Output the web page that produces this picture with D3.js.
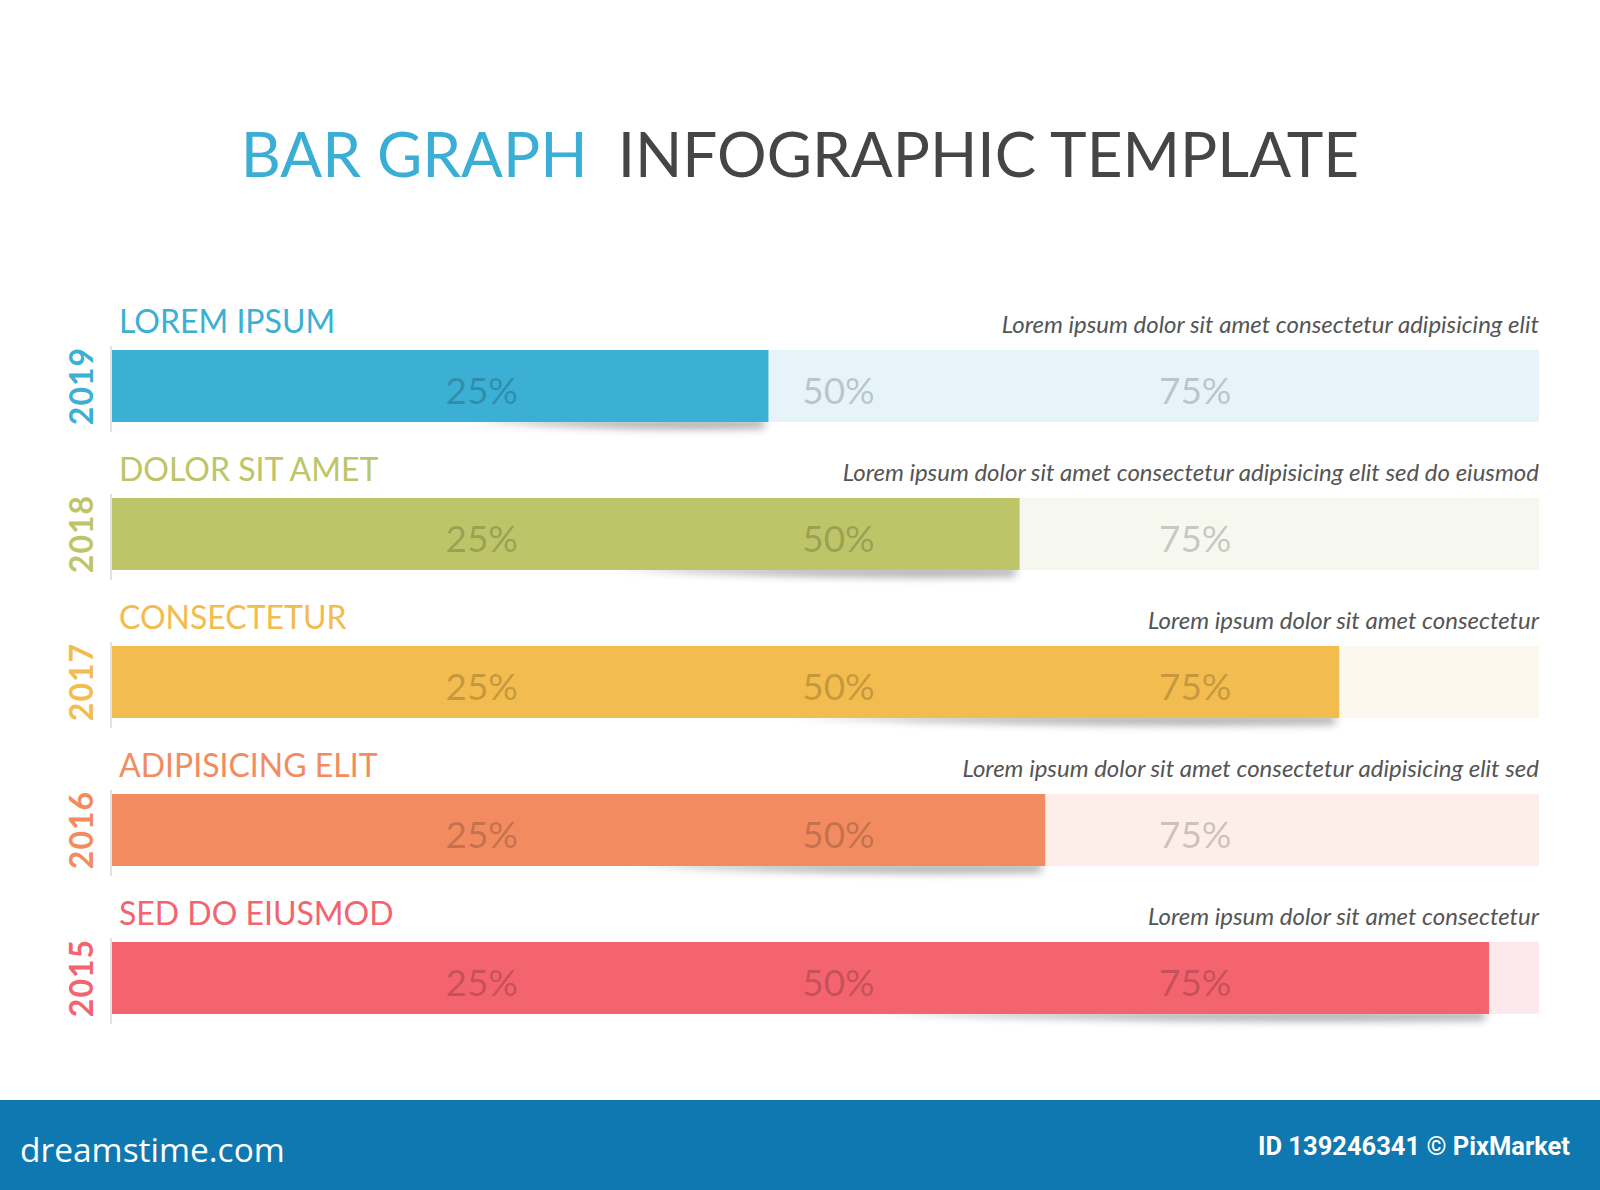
<!DOCTYPE html>
<html>
<head>
<meta charset="utf-8">
<script src="https://cdn.jsdelivr.net/npm/d3@7"></script>
<style>
  html, body { margin: 0; padding: 0; background: #fff; }
  svg { display: block; }
</style>
</head>
<body>
<svg id="chart" width="1600" height="1190"></svg>
<script>
// ---- data ----
const years = ["2019", "2018", "2017", "2016", "2015"];
const categories = ["LOREM IPSUM", "DOLOR SIT AMET", "CONSECTETUR", "ADIPISICING ELIT", "SED DO EIUSMOD"];
const descriptions = [
  "Lorem ipsum dolor sit amet consectetur adipisicing elit",
  "Lorem ipsum dolor sit amet consectetur adipisicing elit sed do eiusmod",
  "Lorem ipsum dolor sit amet consectetur",
  "Lorem ipsum dolor sit amet consectetur adipisicing elit sed",
  "Lorem ipsum dolor sit amet consectetur"
];
const values = [46, 63.6, 86, 65.4, 96.5];
const tickValues = [25, 50, 75];
const tickLabels = ["25%", "50%", "75%"];
const barColors = ["#3cafd4", "#bec568", "#f2bc4e", "#f28c60", "#f3646f"];
const trackColors = ["#e6f3f9", "#f6f7ee", "#fdf8ee", "#fdeeea", "#fde9ec"];

const svg = d3.select("#chart");
const W = 1600;

// ---- scales ----
const x = d3.scaleLinear().domain([0, 100]).range([112, 1539]);
const y = d3.scaleBand().domain(years).range([302, 1042]).paddingInner(0);
const labelSpace = 48, barH = 72;

// ---- defs ----
const defs = svg.append("defs");
defs.append("filter").attr("id", "blur").attr("x", "-20%").attr("y", "-200%").attr("width", "140%").attr("height", "500%")
  .append("feGaussianBlur").attr("stdDeviation", 4);

// ---- title ----
const title = svg.append("text")
  .attr("x", W / 2).attr("y", 177)
  .attr("text-anchor", "middle")
  .style("font-family", "Lato, 'Open Sans', sans-serif")
  .style("font-size", "62px");
title.append("tspan").attr("fill", "#3aaed4").text("BAR GRAPH");
title.append("tspan").attr("fill", "#454545").attr("dx", 30).text("INFOGRAPHIC TEMPLATE");

// ---- rows ----
const rows = svg.selectAll("g.row").data(years).join("g").attr("class", "row")
  .attr("transform", d => `translate(0,${y(d) + labelSpace})`);

// shadow under bar end
rows.append("path")
  .attr("d", (d, i) => {
    const x1 = x(values[i]);
    const x0 = x(values[i] * 0.55);
    return `M${x0},${barH - 2} Q${(x0 + x1) / 2},${barH + 10} ${x1 - 4},${barH + 6} L${x1 - 4},${barH - 2} Z`;
  })
  .attr("fill", "#000").attr("opacity", 0.35).attr("filter", "url(#blur)");

// left edge shadow line
rows.append("line")
  .attr("x1", x(0) - 1).attr("x2", x(0) - 1)
  .attr("y1", -4).attr("y2", barH + 10)
  .attr("stroke", "#e2e2e2").attr("stroke-width", 2);

// track
rows.append("rect")
  .attr("x", x(0)).attr("y", 0)
  .attr("width", x(100) - x(0)).attr("height", barH)
  .attr("fill", (d, i) => trackColors[i]);

// bar
rows.append("rect")
  .attr("x", x(0)).attr("y", 0)
  .attr("width", (d, i) => x(values[i]) - x(0)).attr("height", barH)
  .attr("fill", (d, i) => barColors[i]);

// percent markers
rows.each(function () {
  d3.select(this).selectAll("text.pct").data(tickValues).join("text")
    .attr("class", "pct")
    .attr("x", v => x(v) + 13)
    .attr("y", barH / 2 + 18)
    .attr("text-anchor", "middle")
    .attr("fill", "#000").attr("fill-opacity", 0.2)
    .style("font-family", "Lato, sans-serif")
    .style("font-size", "37px")
    .text((v, k) => tickLabels[k]);
});

// year labels (rotated)
rows.append("text")
  .attr("transform", `translate(${x(0) - 30},${barH / 2}) rotate(-90)`)
  .attr("text-anchor", "middle")
  .attr("dy", "0.35em")
  .attr("fill", (d, i) => barColors[i])
  .style("font-family", "Lato, 'Open Sans', sans-serif")
  .style("font-weight", "bold")
  .style("font-size", "32px")
  .style("letter-spacing", "1px")
  .text(d => d);

// category labels
rows.append("text")
  .attr("x", x(0) + 7).attr("y", -17)
  .attr("fill", (d, i) => barColors[i])
  .style("font-family", "Lato, sans-serif")
  .style("font-size", "32px")
  .text((d, i) => categories[i]);

// descriptions
rows.append("text")
  .attr("x", x(100)).attr("y", -17)
  .attr("text-anchor", "end")
  .attr("fill", "#555")
  .style("font-family", "Lato, sans-serif")
  .style("font-style", "italic")
  .style("font-size", "24px")
  .text((d, i) => descriptions[i]);

// ---- footer banner ----
svg.append("rect").attr("x", 0).attr("y", 1100).attr("width", W).attr("height", 90).attr("fill", "#1078b0");
svg.append("text").attr("x", 20).attr("y", 1162)
  .attr("fill", "#fff")
  .style("font-family", "'Open Sans', sans-serif")
  .style("font-size", "33.5px")
  .text("dreamstime.com");
svg.append("text").attr("x", 1570).attr("y", 1155)
  .attr("text-anchor", "end")
  .attr("fill", "#fff")
  .style("font-family", "Roboto, sans-serif")
  .style("font-weight", "bold")
  .style("font-size", "25.5px")
  .text("ID 139246341 © PixMarket");
</script>
</body>
</html>
